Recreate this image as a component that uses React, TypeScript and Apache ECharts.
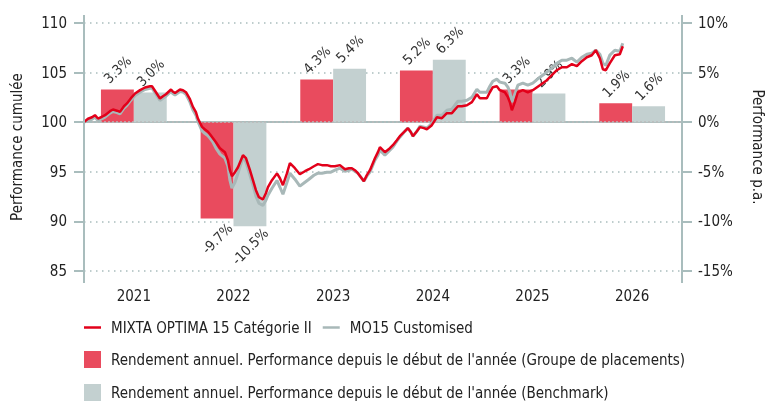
import React, { useEffect, useRef } from 'react';
import * as echarts from 'echarts';

const FONT = "'DejaVu Sans Condensed', 'DejaVu Sans', sans-serif";

const years = ['2021', '2022', '2023', '2024', '2025', '2026'];
const fundAnnual = [3.3, -9.7, 4.3, 5.2, 3.3, 1.9];
const benchAnnual = [3.0, -10.5, 5.4, 6.3, 2.9, 1.6];

const fundName = 'MIXTA OPTIMA 15 Catégorie II';
const benchName = 'MO15 Customised';
const fundBarName = "Rendement annuel. Performance depuis le début de l'année (Groupe de placements)";
const benchBarName = "Rendement annuel. Performance depuis le début de l'année (Benchmark)";

// time in decimal years
const lineTime = [
  2021.000, 2021.040, 2021.080, 2021.110, 2021.140, 2021.181, 2021.211, 2021.261, 2021.291, 2021.331,
  2021.361, 2021.401, 2021.431, 2021.471, 2021.512, 2021.562, 2021.612, 2021.662, 2021.682, 2021.722,
  2021.762, 2021.792, 2021.822, 2021.873, 2021.893, 2021.913, 2021.963, 2021.993, 2022.023, 2022.063,
  2022.093, 2022.123, 2022.143, 2022.184, 2022.214, 2022.244, 2022.264, 2022.294, 2022.324, 2022.364,
  2022.414, 2022.444, 2022.464, 2022.484, 2022.515, 2022.545, 2022.595, 2022.625, 2022.665, 2022.695,
  2022.725, 2022.755, 2022.795, 2022.825, 2022.846, 2022.886, 2022.936, 2022.966, 2022.996, 2023.036,
  2023.066, 2023.116, 2023.166, 2023.217, 2023.257, 2023.307, 2023.347, 2023.387, 2023.437, 2023.477,
  2023.518, 2023.568, 2023.618, 2023.658, 2023.688, 2023.718, 2023.748, 2023.778, 2023.808, 2023.838,
  2023.869, 2023.919, 2023.949, 2023.969, 2023.999, 2024.019, 2024.069, 2024.099, 2024.139, 2024.169,
  2024.210, 2024.250, 2024.280, 2024.300, 2024.340, 2024.370, 2024.410, 2024.440, 2024.490, 2024.541,
  2024.591, 2024.641, 2024.691, 2024.751, 2024.791, 2024.842, 2024.892, 2024.942, 2024.972, 2025.042,
  2025.072, 2025.102, 2025.142, 2025.172, 2025.223, 2025.253, 2025.273, 2025.293, 2025.323, 2025.353,
  2025.403, 2025.453, 2025.503, 2025.574, 2025.644, 2025.694, 2025.744, 2025.794, 2025.845, 2025.895,
  2025.945, 2025.995, 2026.045, 2026.095, 2026.135, 2026.176, 2026.206, 2026.236, 2026.276, 2026.326,
  2026.376, 2026.406,
];

const fundCum = [
  100.03, 100.35, 100.50, 100.71, 100.37, 100.55, 100.71, 101.11, 101.28, 101.16,
  101.04, 101.61, 101.89, 102.42, 102.89, 103.23, 103.50, 103.63, 103.63, 103.02,
  102.39, 102.62, 102.82, 103.30, 103.07, 102.95, 103.30, 103.23, 103.02, 102.32,
  101.54, 101.01, 100.37, 99.53, 99.26, 99.04, 98.79, 98.39, 97.98, 97.38,
  96.98, 96.17, 95.16, 94.56, 94.96, 95.46, 96.67, 96.37, 95.16, 94.15,
  93.15, 92.44, 92.21, 92.84, 93.45, 94.15, 94.84, 94.35, 93.65, 94.84,
  95.87, 95.36, 94.76, 95.06, 95.26, 95.56, 95.77, 95.67, 95.67, 95.56,
  95.56, 95.67, 95.26, 95.36, 95.36, 95.16, 94.86, 94.46, 94.05, 94.66,
  95.16, 96.37, 96.98, 97.48, 97.18, 96.98, 97.38, 97.68, 98.19, 98.59,
  98.99, 99.40, 98.99, 98.59, 99.09, 99.50, 99.40, 99.29, 99.70, 100.50,
  100.40, 100.91, 100.91, 101.61, 101.61, 101.71, 102.02, 102.82, 102.42, 102.42,
  103.02, 103.53, 103.63, 103.23, 103.02, 102.52, 102.02, 101.21, 102.02, 103.02,
  103.23, 103.02, 103.23, 103.73, 104.23, 104.74, 105.24, 105.54, 105.54, 105.85,
  105.65, 106.15, 106.55, 106.75, 107.26, 106.45, 105.34, 105.24, 105.95, 106.75,
  106.85, 107.66,
];

const benchCum = [
  100.00, 100.15, 100.30, 100.51, 100.17, 100.35, 100.51, 100.91, 101.08, 100.96,
  100.84, 101.41, 101.69, 102.22, 102.69, 103.03, 103.30, 103.43, 103.43, 102.82,
  102.19, 102.42, 102.62, 103.10, 102.87, 102.75, 103.10, 103.03, 102.82, 102.02,
  101.24, 100.71, 100.07, 99.13, 98.86, 98.64, 98.39, 97.99, 97.38, 96.78,
  96.38, 95.57, 94.15, 93.35, 93.95, 94.86, 96.47, 95.97, 94.66, 93.65,
  92.55, 91.84, 91.61, 92.13, 92.64, 93.34, 94.13, 93.44, 92.74, 93.93,
  94.86, 94.25, 93.55, 93.95, 94.25, 94.65, 94.86, 94.86, 94.96, 94.96,
  95.16, 95.37, 95.06, 95.16, 95.26, 95.06, 94.86, 94.46, 94.05, 94.56,
  94.96, 96.17, 96.68, 97.18, 96.88, 96.68, 97.18, 97.48, 98.09, 98.49,
  98.99, 99.40, 98.99, 98.59, 99.09, 99.60, 99.50, 99.39, 99.90, 100.70,
  100.70, 101.21, 101.31, 102.11, 102.11, 102.21, 102.52, 103.32, 103.02, 103.02,
  103.62, 104.13, 104.34, 104.04, 103.93, 103.53, 103.03, 102.02, 102.83, 103.73,
  103.94, 103.73, 103.94, 104.54, 105.04, 105.45, 105.95, 106.25, 106.25, 106.45,
  106.05, 106.55, 106.85, 106.95, 107.26, 106.85, 105.94, 105.74, 106.76, 107.25,
  107.15, 107.96,
];

const AXIS = '#A9BDBD';
const RED_LINE = '#E2001A';
const GREY_LINE = '#A8B8B8';
const RED_BAR = '#E94B5E';
const GREY_BAR = '#C3D0D0';
const TEXT = '#222222';
const FS = 15;

function barData(vals: number[]) {
  return vals.map((v) => ({
    value: v,
    label: { position: v < 0 ? 'bottom' : 'top' },
  }));
}

const barLabel = {
  show: true,
  rotate: 45,
  align: 'center',
  verticalAlign: 'middle',
  distance: 20,
  fontFamily: FONT,
  fontSize: 14,
  color: '#333',
  formatter: (p: any) => p.value.toFixed(1) + '%',
};

const legendText = { fontSize: FS, color: TEXT, fontFamily: FONT, padding: [0, 0, 0, 5] };

export default function App() {
  const ref = useRef<HTMLDivElement>(null);
  useEffect(() => {
    const chart = echarts.init(ref.current!, null, { renderer: 'svg' });
    const option: any = {
      animation: false,
      textStyle: { fontFamily: FONT },
      grid: { left: 84, right: 83, top: 23, bottom: 130, containLabel: false, outerBoundsMode: 'none' },
      xAxis: [
        {
          type: 'category',
          data: years,
          position: 'bottom',
          offset: 4,
          boundaryGap: true,
          axisLine: { lineStyle: { color: AXIS, width: 2 } },
          axisTick: { length: 8, lineStyle: { color: AXIS, width: 2 } },
          axisLabel: { margin: 13, fontSize: FS, color: TEXT, fontFamily: FONT },
          splitLine: { show: false },
        },
        { type: 'value', min: 2021, max: 2027, show: false },
      ],
      yAxis: [
        {
          type: 'value',
          position: 'left',
          min: 85,
          max: 110,
          interval: 5,
          name: 'Performance cumulée',
          nameLocation: 'middle',
          nameRotate: 90,
          nameGap: 60,
          nameTextStyle: { fontSize: FS, color: TEXT, fontFamily: FONT },
          axisLine: { show: false },
          axisTick: { show: true, length: 10, lineStyle: { color: AXIS, width: 2 } },
          axisLabel: { margin: 17, fontSize: FS, color: TEXT, fontFamily: FONT },
          splitLine: { show: true, lineStyle: { color: AXIS, width: 1.5, type: [1.5, 4.5] } },
        },
        {
          type: 'value',
          position: 'right',
          min: -15,
          max: 10,
          interval: 5,
          name: 'Performance p.a.',
          nameLocation: 'middle',
          nameRotate: -90,
          nameGap: 68,
          nameTextStyle: { fontSize: FS, color: TEXT, fontFamily: FONT },
          axisLine: { show: false },
          axisTick: { show: true, length: 10, lineStyle: { color: AXIS, width: 2 } },
          axisLabel: { margin: 16, fontSize: FS, color: TEXT, fontFamily: FONT, formatter: '{value}%' },
          splitLine: { show: false },
        },
      ],
      legend: [
        {
          data: [
            { name: fundName, icon: 'rect' },
            { name: benchName, icon: 'rect' },
          ],
          left: 79,
          top: 315,
          itemWidth: 17,
          itemHeight: 2.5,
          itemGap: 11,
          selectedMode: false,
          textStyle: legendText,
        },
        {
          data: [{ name: fundBarName, icon: 'rect' }],
          left: 79,
          top: 346,
          itemWidth: 17,
          itemHeight: 17,
          selectedMode: false,
          textStyle: legendText,
        },
        {
          data: [{ name: benchBarName, icon: 'rect' }],
          left: 79,
          top: 379,
          itemWidth: 17,
          itemHeight: 17,
          selectedMode: false,
          textStyle: legendText,
        },
      ],
      graphic: [
        { type: 'line', shape: { x1: 84, y1: 15, x2: 84, y2: 283 }, style: { stroke: AXIS, lineWidth: 2 }, z: 10 },
        { type: 'line', shape: { x1: 682, y1: 15, x2: 682, y2: 283 }, style: { stroke: AXIS, lineWidth: 2 }, z: 10 },
      ],
      series: [
        {
          name: fundBarName,
          type: 'bar',
          xAxisIndex: 0,
          yAxisIndex: 1,
          data: barData(fundAnnual),
          itemStyle: { color: RED_BAR },
          barGap: '0%',
          barCategoryGap: '34%',
          label: barLabel,
          z: 2,
          markLine: {
            silent: true,
            symbol: 'none',
            label: { show: false },
            lineStyle: { color: '#BBBBBB', width: 1.5, type: [2, 2] },
            data: [{ yAxis: 0 }],
          },
        },
        {
          name: benchBarName,
          type: 'bar',
          xAxisIndex: 0,
          yAxisIndex: 1,
          data: barData(benchAnnual),
          itemStyle: { color: GREY_BAR },
          barGap: '0%',
          barCategoryGap: '34%',
          label: barLabel,
          z: 2,
        },
        {
          name: benchName,
          type: 'line',
          xAxisIndex: 1,
          yAxisIndex: 0,
          data: lineTime.map((t, i) => [t, benchCum[i]]),
          showSymbol: false,
          symbol: 'none',
          color: GREY_LINE,
          lineStyle: { color: GREY_LINE, width: 3 },
          z: 5,
        },
        {
          name: fundName,
          type: 'line',
          xAxisIndex: 1,
          yAxisIndex: 0,
          data: lineTime.map((t, i) => [t, fundCum[i]]),
          showSymbol: false,
          symbol: 'none',
          color: RED_LINE,
          lineStyle: { color: RED_LINE, width: 2.5 },
          z: 6,
        },
      ],
    };
    chart.setOption(option);
    return () => chart.dispose();
  }, []);
  return <div ref={ref} style={{ position: 'fixed', left: 0, top: 0, width: 765, height: 401 }} />;
}
